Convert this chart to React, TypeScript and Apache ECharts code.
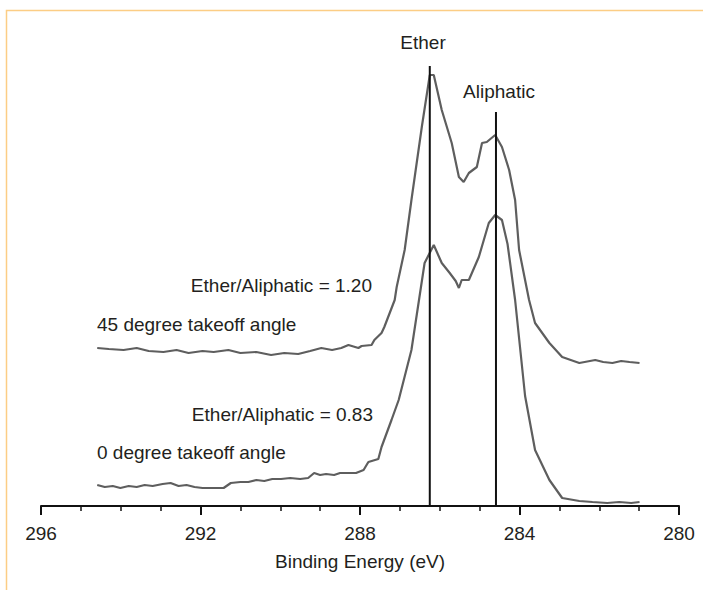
import React, { useEffect, useRef } from "react";
import * as echarts from "echarts";

// Binding energy (eV) / intensity (arbitrary units) for each spectrum
const energy45: number[] = [294.59, 294.3, 293.93, 293.6, 293.3, 292.93, 292.6, 292.3, 291.95, 291.67, 291.3, 291.0, 290.6, 290.23, 289.9, 289.55, 289.25, 288.97, 288.7, 288.47, 288.29, 288.04, 287.96, 287.71, 287.64, 287.46, 287.39, 287.13, 287.08, 286.88, 286.71, 286.45, 286.25, 286.15, 285.95, 285.7, 285.52, 285.4, 285.27, 285.07, 284.94, 284.82, 284.61, 284.44, 284.26, 284.11, 284.01, 283.76, 283.61, 283.25, 282.93, 282.5, 282.1, 281.9, 281.67, 281.45, 281.24, 280.99];
const intensity45: number[] = [158, 157, 156, 158, 155, 154, 156, 153, 155, 154, 156, 153, 154, 151, 153, 152, 155, 158, 156, 158, 161, 158, 160, 161, 166, 173, 179, 206, 219, 256, 306, 379, 431, 431, 396, 363, 329, 324, 333, 339, 363, 364, 371, 359, 336, 306, 256, 206, 183, 163, 149, 143, 146, 144, 143, 145, 144, 143];

const energy0: number[] = [294.59, 294.4, 294.2, 294.01, 293.8, 293.6, 293.4, 293.2, 292.95, 292.75, 292.55, 292.35, 292.15, 291.95, 291.82, 291.6, 291.42, 291.24, 291.0, 290.8, 290.6, 290.4, 290.2, 289.98, 289.75, 289.5, 289.3, 289.15, 289.0, 288.85, 288.65, 288.5, 288.29, 288.1, 287.91, 287.79, 287.54, 287.46, 287.21, 287.03, 286.71, 286.38, 286.15, 285.95, 285.75, 285.6, 285.52, 285.45, 285.27, 285.02, 284.77, 284.61, 284.44, 284.3, 284.11, 283.86, 283.61, 283.25, 282.93, 282.5, 282.17, 281.8, 281.5, 281.2, 280.99];
const intensity0: number[] = [21, 19, 20, 18, 20, 19, 21, 20, 22, 23, 20, 21, 19, 18, 18, 18, 18, 23, 24, 24, 26, 25, 27, 27, 28, 27, 28, 33, 31, 32, 31, 33, 33, 33, 36, 44, 47, 59, 86, 106, 156, 243, 261, 243, 233, 225, 218, 226, 226, 249, 283, 291, 286, 262, 206, 110, 56, 26, 8, 5, 4, 3, 4, 3, 4];

// Reference peak positions (eV) and line heights
const etherEnergy = 286.25;
const aliphaticEnergy = 284.59;
const etherLineTop = 440;
const aliphaticLineTop = 394;

const xTicks = [296, 292, 288, 284, 280];

const TEXT = "#231f20";
const FONT = "'Liberation Sans', Arial, sans-serif";
const FS = 19;

function zip(xs: number[], ys: number[]) {
  return xs.map((x, i) => [x, ys[i]]);
}

export default function App() {
  const ref = useRef<HTMLDivElement>(null);
  useEffect(() => {
    document.body.style.margin = "0";
    if (!ref.current) return;
    const chart = echarts.init(ref.current, null, { renderer: "svg" });
    const txt = (text: string, x: number, y: number, align: string) => ({
      type: "text",
      x,
      y,
      style: {
        text,
        fill: TEXT,
        font: `${FS}px ${FONT}`,
        align,
        verticalAlign: "middle",
      },
    });
    chart.setOption({
      animation: false,
      backgroundColor: "#ffffff",
      grid: { left: 41, right: 24, top: 46, bottom: 84 },
      xAxis: {
        type: "value",
        inverse: true,
        min: 280,
        max: 296,
        interval: 4,
        name: "Binding Energy (eV)",
        nameLocation: "middle",
        nameGap: 46,
        nameTextStyle: { color: TEXT, fontSize: FS, fontFamily: FONT },
        axisLine: { show: true, lineStyle: { color: "#111", width: 2 } },
        axisTick: { show: true, length: 9, lineStyle: { color: "#111", width: 2 } },
        minorTick: { show: true, splitNumber: 4, length: 5, lineStyle: { color: "#111", width: 1.5 } },
        axisLabel: {
          color: TEXT,
          fontSize: FS,
          fontFamily: FONT,
          margin: 18,
          formatter: (v: number) => (xTicks.includes(v) ? String(v) : ""),
        },
        splitLine: { show: false },
      },
      yAxis: {
        type: "value",
        min: 0,
        max: 460,
        show: false,
      },
      series: [
        {
          type: "line",
          data: zip(energy45, intensity45),
          showSymbol: false,
          lineStyle: { color: "#5e5e5e", width: 2.2 },
          z: 3,
        },
        {
          type: "line",
          data: zip(energy0, intensity0),
          showSymbol: false,
          lineStyle: { color: "#5e5e5e", width: 2.2 },
          z: 3,
        },
        {
          type: "line",
          data: [
            [etherEnergy, 0],
            [etherEnergy, etherLineTop],
          ],
          showSymbol: false,
          lineStyle: { color: "#111", width: 2 },
          z: 4,
        },
        {
          type: "line",
          data: [
            [aliphaticEnergy, 0],
            [aliphaticEnergy, aliphaticLineTop],
          ],
          showSymbol: false,
          lineStyle: { color: "#111", width: 2 },
          z: 4,
        },
      ],
      graphic: [
        {
          type: "rect",
          shape: { x: 6.5, y: 10.5, width: 800, height: 700 },
          style: { fill: "none", stroke: "#fccd85", lineWidth: 1.5 },
          silent: true,
        },
        txt("Ether", 423, 42, "center"),
        txt("Aliphatic", 499, 91, "center"),
        txt("Ether/Aliphatic = 1.20", 372, 285, "right"),
        txt("45 degree takeoff angle", 97, 324, "left"),
        txt("Ether/Aliphatic = 0.83", 373, 414, "right"),
        txt("0 degree takeoff angle", 97, 452, "left"),
      ],
    });
    return () => chart.dispose();
  }, []);
  return <div ref={ref} style={{ width: 703, height: 590 }} />;
}
